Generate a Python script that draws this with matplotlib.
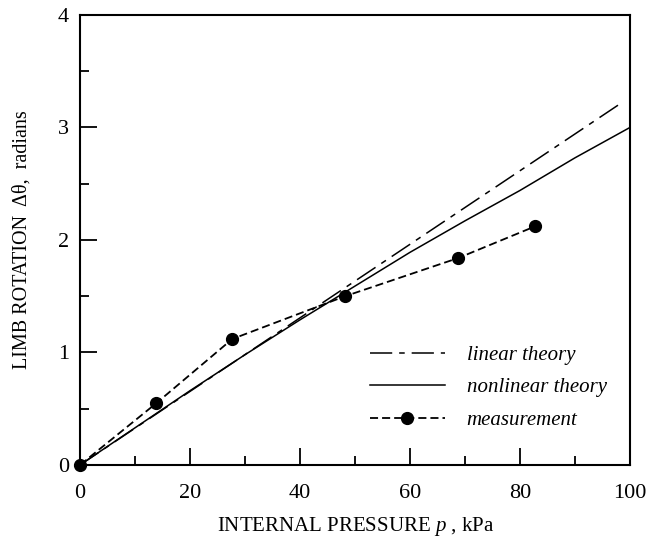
import matplotlib
matplotlib.use("Agg")
import matplotlib.pyplot as plt
from matplotlib.ticker import MultipleLocator

# fonts: Times-like serif everywhere
plt.rcParams['font.family'] = ['Liberation Serif', 'DejaVu Serif']
plt.rcParams['mathtext.fontset'] = 'custom'
plt.rcParams['mathtext.it'] = 'Liberation Serif:italic'
plt.rcParams['mathtext.rm'] = 'Liberation Serif'
plt.rcParams['lines.scale_dashes'] = False

# data
linear_p = [0, 98.5]
linear_rot = [0, 3.22]

nonlinear_p = [0, 10, 20, 30, 40, 50, 60, 70, 80, 90, 100]
nonlinear_rot = [0, 0.33, 0.66, 0.98, 1.29, 1.59, 1.89, 2.17, 2.44, 2.73, 3.0]

meas_p = [0, 13.9, 27.7, 48.2, 68.8, 82.7]
meas_rot = [0, 0.55, 1.12, 1.50, 1.84, 2.12]

fig = plt.figure(figsize=(6.47, 5.37), dpi=100)
ax = fig.add_axes([0.1236, 0.1341, 0.850, 0.838])

ax.plot(linear_p, linear_rot, color='black', lw=1.1,
        dashes=(16, 5, 4, 5), label='linear theory')
ax.plot(nonlinear_p, nonlinear_rot, color='black', lw=1.1,
        label='nonlinear theory')
ax.plot(meas_p, meas_rot, color='black', lw=1.3, dashes=(5.8, 2.9),
        marker='o', markersize=8.5, label='measurement', clip_on=False,
        zorder=5)

ax.set_xlim(0, 100)
ax.set_ylim(0, 4)

# ticks: inward, only left and bottom
ax.xaxis.set_major_locator(MultipleLocator(20))
ax.xaxis.set_minor_locator(MultipleLocator(10))
ax.yaxis.set_major_locator(MultipleLocator(1))
ax.yaxis.set_minor_locator(MultipleLocator(0.5))
ax.tick_params(which='both', direction='in', top=False, right=False,
               width=1.3, labelsize=16)
ax.tick_params(which='major', length=12.5)
ax.tick_params(which='minor', length=6.5)
ax.tick_params(axis='x', pad=14)
ax.tick_params(axis='y', pad=8)

for s in ax.spines.values():
    s.set_linewidth(1.5)

ax.set_xlabel('INTERNAL PRESSURE $p$ , kPa', fontsize=15, ha='left')
ax.xaxis.set_label_coords(0.249, -0.112)
ax.set_ylabel('LIMB ROTATION  Δθ,  radians', fontsize=14.5)
ax.yaxis.set_label_coords(-0.088, 0.5)

leg = ax.legend(loc='upper left', bbox_to_anchor=(0.527, 0.266), frameon=False,
                handlelength=3.6, handletextpad=1.05, labelspacing=0.62,
                numpoints=1, borderpad=0, borderaxespad=0,
                prop={'style': 'italic', 'size': 15})

fig.savefig('out.png', dpi=100)
